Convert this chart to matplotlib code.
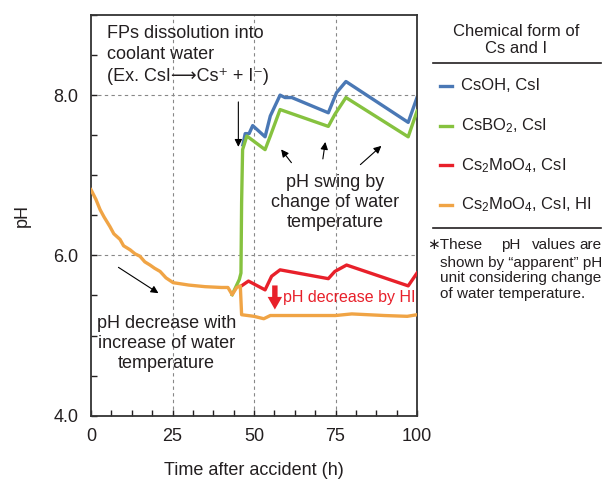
import matplotlib
matplotlib.use("Agg")
import matplotlib.pyplot as plt
from matplotlib.lines import Line2D
from matplotlib.ticker import MultipleLocator

plt.rcParams['font.family'] = ['Liberation Sans', 'DejaVu Sans']
plt.rcParams['mathtext.fontset'] = 'custom'
plt.rcParams['mathtext.rm'] = 'Liberation Sans'
plt.rcParams['mathtext.it'] = 'Liberation Sans'

# data
orange_t = [0, 1.5, 2.8, 4, 5.8, 7, 8.9, 10, 12, 13.5, 15, 16.5, 18.1, 19.5, 21.2, 23, 25.2,
            30, 35, 40, 42, 43.3, 44.7, 45.8, 46.2, 50, 53, 55, 65, 75, 80, 90, 97, 100]
orange_pH = [6.82, 6.70, 6.57, 6.48, 6.36, 6.27, 6.20, 6.12, 6.07, 6.02, 5.99, 5.92, 5.88, 5.84,
             5.80, 5.72, 5.66, 5.63, 5.61, 5.60, 5.60, 5.51, 5.60, 5.62, 5.26, 5.24, 5.21, 5.25,
             5.25, 5.25, 5.27, 5.25, 5.24, 5.26]

green_t = [43.3, 45.5, 46.0, 46.2, 46.5, 47.8, 53.4, 55, 58, 72.8, 74.8, 78.2, 97.3, 100]
green_pH = [5.51, 5.70, 5.78, 6.66, 7.32, 7.49, 7.32, 7.49, 7.82, 7.61, 7.76, 7.97, 7.48, 7.80]

blue_t = [46.6, 47.3, 48.5, 49.6, 53.4, 55, 58, 59.5, 61.6, 72.8, 75.3, 78.2, 97.3, 100]
blue_pH = [7.38, 7.52, 7.52, 7.62, 7.48, 7.74, 8.00, 7.97, 7.97, 7.78, 8.03, 8.17, 7.66, 7.97]

red_t = [45.8, 48.3, 53.4, 55.4, 58, 72.8, 74.8, 78.4, 97.3, 100]
red_pH = [5.61, 5.68, 5.57, 5.74, 5.82, 5.71, 5.80, 5.88, 5.62, 5.78]

labels = ['CsOH, CsI', 'CsBO$_2$, CsI', 'Cs$_2$MoO$_4$, CsI', 'Cs$_2$MoO$_4$, CsI, HI']
colors = ['#4a78b5', '#86c23f', '#e8202a', '#f0a445']

W, H = 612, 480
txt = '#231f20'


def fx(px):
    return px / W


def fy(py):
    return 1 - py / H


fig = plt.figure(figsize=(6.12, 4.8), dpi=100)
ax = fig.add_axes([fx(91), fy(415.7), fx(417 - 91), (415.7 - 15) / H])

ax.plot(blue_t, blue_pH, color=colors[0], lw=2.4, zorder=2)
ax.plot(green_t, green_pH, color=colors[1], lw=2.4, zorder=3)
ax.plot(red_t, red_pH, color=colors[2], lw=2.4, zorder=4)
ax.plot(orange_t, orange_pH, color=colors[3], lw=2.4, zorder=5)

ax.set_xlim(0, 100)
ax.set_ylim(4, 9)
ax.xaxis.set_major_locator(MultipleLocator(25))
ax.xaxis.set_minor_locator(MultipleLocator(6.25))
ax.yaxis.set_major_locator(MultipleLocator(2))
ax.yaxis.set_minor_locator(MultipleLocator(0.5))
ax.yaxis.set_major_formatter(plt.FuncFormatter(lambda v, p: f'{v:.1f}'))
ax.tick_params(which='both', direction='in', length=4, width=1, labelsize=13,
               colors=txt, pad=9)
for s in ax.spines.values():
    s.set_linewidth(1.3)
    s.set_color('#333333')

for x in [25, 50, 75]:
    ax.axvline(x, color='#888888', lw=0.8, ls=(0, (3, 3)), zorder=1)
for y in [6, 8]:
    ax.axhline(y, color='#888888', lw=0.8, ls=(0, (3, 3)), zorder=1)

ax.set_xlabel('Time after accident (h)', fontsize=13, color=txt, labelpad=12)
ax.set_ylabel('pH', fontsize=13, color=txt, labelpad=16)

# annotations (plain text so missing glyphs fall back to DejaVu Sans)
ax.text(5, 8.88, 'FPs dissolution into\ncoolant water\n(Ex. CsI\u27f6Cs\u207a + I\u207b)',
        fontsize=13, color=txt, ha='left', va='top', linespacing=1.35)
arr = dict(arrowstyle='-|>', color='black', lw=0.8, mutation_scale=11)
ax.annotate('', xy=(45.2, 7.32), xytext=(45.2, 7.95), arrowprops=arr)

ax.text(74.8, 6.66, 'pH swing by\nchange of water\ntemperature', fontsize=13, color=txt,
        ha='center', va='center', linespacing=1.2)
ax.annotate('', xy=(57.8, 7.35), xytext=(62, 7.13), arrowprops=arr)
ax.annotate('', xy=(72, 7.45), xytext=(71, 7.17), arrowprops=arr)
ax.annotate('', xy=(89.7, 7.39), xytext=(82, 7.11), arrowprops=arr)

ax.text(23.2, 4.9, 'pH decrease with\nincrease of water\ntemperature', fontsize=13, color=txt,
        ha='center', va='center', linespacing=1.2)
ax.annotate('', xy=(21.4, 5.51), xytext=(7.7, 5.87), arrowprops=arr)

ax.text(59, 5.47, 'pH decrease by HI', fontsize=11.5, color=colors[2], ha='left', va='center')
ax.annotate('', xy=(56.4, 5.29), xytext=(56.4, 5.66),
            arrowprops=dict(arrowstyle='simple,head_width=0.8,head_length=0.7,tail_width=0.3',
                            color=colors[2], mutation_scale=13, lw=0))

# legend panel on the right
fig.text(fx(516), fy(40), 'Chemical form of\nCs and I', fontsize=12, color=txt,
         ha='center', va='center', linespacing=1.2)
fig.add_artist(Line2D([fx(433), fx(601)], [fy(62.7), fy(62.7)], color=txt, lw=1.2))
fig.add_artist(Line2D([fx(433), fx(601)], [fy(228), fy(228)], color=txt, lw=1.2))
for i, (lab, c) in enumerate(zip(labels, colors)):
    yy = fy(86 + i * 39.7)
    fig.add_artist(Line2D([fx(440), fx(452)], [yy, yy], color=c, lw=2.4))
    fig.text(fx(461), yy, lab, fontsize=12, color=txt, ha='left', va='center')

# footnote, first line spread out like justified text
fig.text(fx(427), fy(245), '\u2217These', fontsize=11, color=txt, ha='left', va='center')
fig.text(fx(511), fy(245), 'pH', fontsize=11, color=txt, ha='center', va='center')
fig.text(fx(554), fy(245), 'values', fontsize=11, color=txt, ha='center', va='center')
fig.text(fx(602), fy(245), 'are', fontsize=11, color=txt, ha='right', va='center')
fig.text(fx(440), fy(255.5), 'shown by \u201capparent\u201d pH\nunit considering change\nof water temperature.',
         fontsize=11, color=txt, ha='left', va='top', linespacing=1.15)

fig.savefig('out.png', dpi=100)
